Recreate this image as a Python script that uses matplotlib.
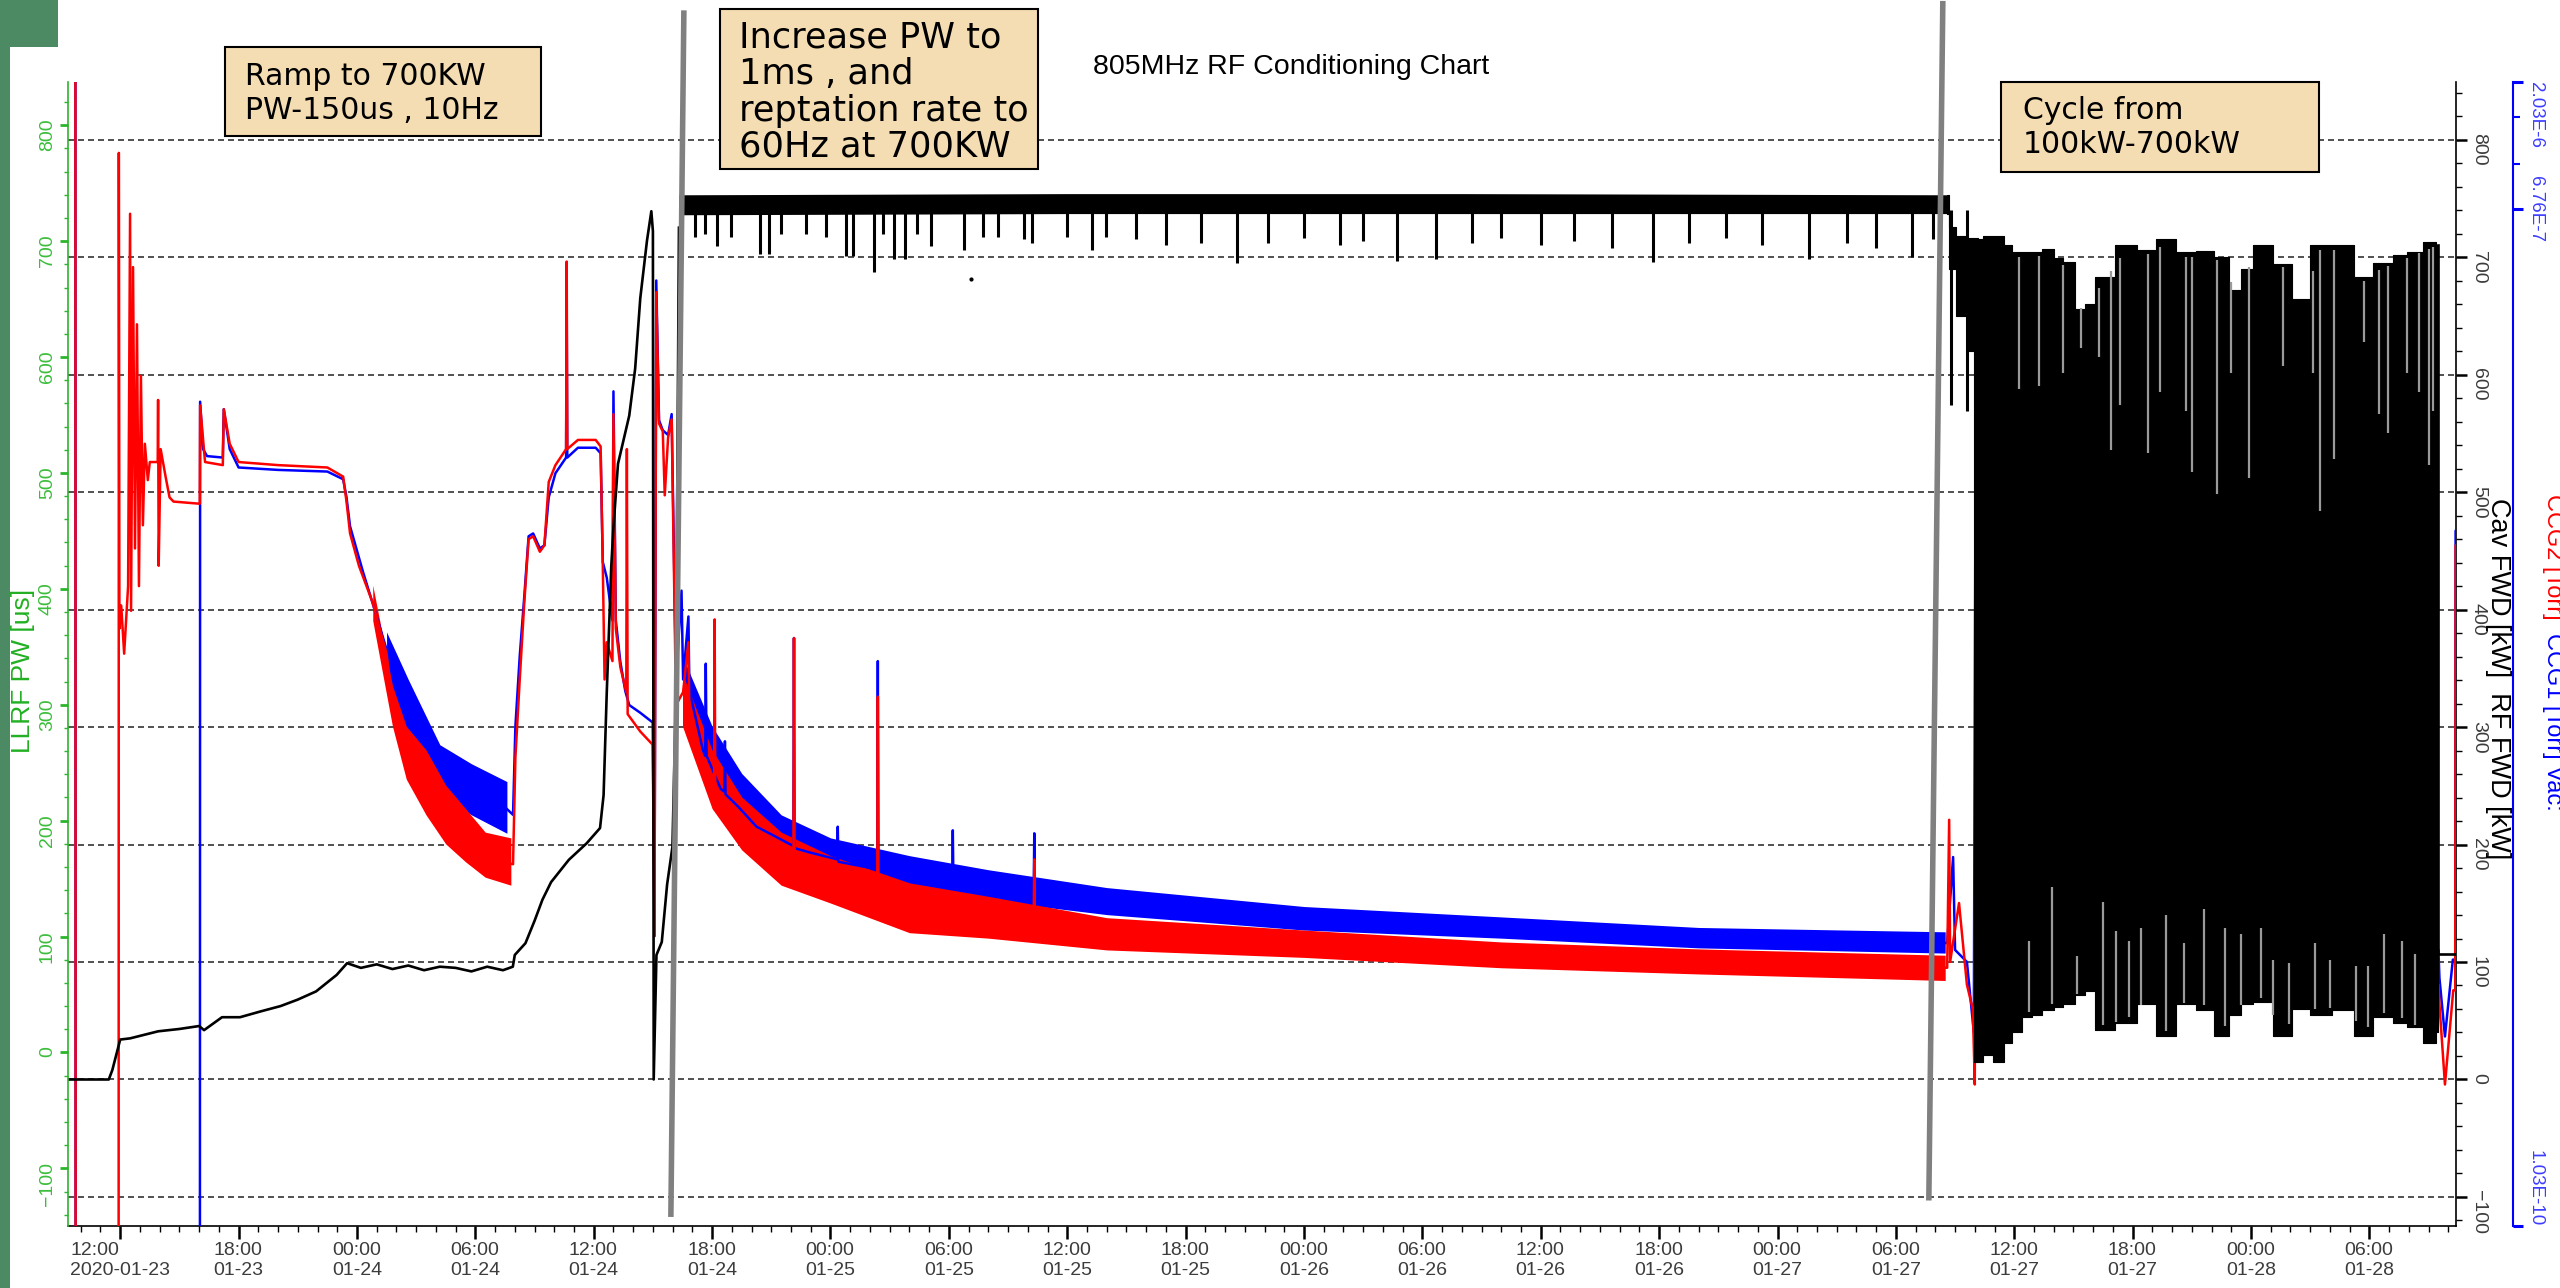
import numpy as np
import matplotlib
matplotlib.use("Agg")
import matplotlib.pyplot as plt
import matplotlib.dates as mdates
from matplotlib.patches import Rectangle
from matplotlib.ticker import (FixedLocator, FixedFormatter, MultipleLocator,
                               NullFormatter, FuncFormatter)

plt.rcParams['font.family'] = ['Liberation Sans', 'DejaVu Sans']

# ---- time base: hours after 2020-01-23 00:00 ----
T0 = np.datetime64("2020-01-23T00:00")
X_START, X_END = 9.354, 130.39

# ---- Cav FWD / RF FWD [kW] (black) ----
fwd_trace = [(9.35, 0), (11.42, 0), (11.6, 8), (12.0, 34), (12.5, 35), (13.92, 41),
             (15.0, 43), (16.0, 45.5), (16.25, 42), (17.16, 53), (18.07, 53), (19.13, 58),
             (20.13, 62.5), (21.0, 68), (21.93, 75), (22.97, 89), (23.5, 99), (24.2, 95),
             (25.0, 98), (25.8, 94), (26.6, 97), (27.4, 93), (28.2, 96), (29.0, 95),
             (29.8, 92), (30.6, 96), (31.4, 93), (31.9, 96), (32.0, 106), (32.54, 116),
             (33.0, 135), (33.4, 153), (33.84, 168), (34.74, 187), (35.64, 201), (36.32, 214),
             (36.5, 242), (36.66, 329), (36.89, 437), (37.0, 470), (37.23, 524), (37.8, 565),
             (38.1, 605), (38.36, 665), (38.7, 714), (38.92, 739), (39.0, 722), (39.04, 0),
             (39.18, 106), (39.45, 117), (39.72, 166), (39.99, 198), (40.17, 329), (40.32, 725)]
# steady 700 kW / 60 Hz band (hour, low, high)
fwd_band = [(40.32, 736, 753), (60.0, 737, 754), (80.0, 737, 754), (104.58, 737, 753)]
# trips / dips below the steady band (hour, kW)
fwd_dips = [(41.13, 717), (41.62, 720), (42.25, 709), (42.98, 717), (44.43, 703), (44.88, 703),
            (45.51, 720), (46.78, 720), (47.78, 717), (48.77, 701), (49.13, 701), (50.22, 687),
            (50.67, 720), (51.22, 698), (51.76, 698), (52.39, 720), (53.12, 709), (54.75, 706),
            (55.74, 717), (56.47, 717), (57.82, 715), (58.19, 712), (60.0, 717), (61.26, 706),
            (61.99, 717), (63.5, 715), (65.0, 710), (66.8, 712), (68.6, 695), (70.2, 712),
            (72.0, 716), (73.8, 710), (75.0, 714), (76.7, 697), (78.7, 698), (80.5, 712),
            (82.0, 716), (84.0, 710), (85.7, 714), (87.6, 708), (89.7, 696), (91.5, 712),
            (93.4, 716), (95.2, 710), (97.6, 698), (99.5, 712), (101.0, 708), (102.8, 700),
            (103.9, 715), (104.78, 574), (105.58, 569)]
fwd_stray = [(55.1, 681)]
# 100-700 kW cycling envelope (hour, top, bottom)
cycle_env = [(104.58, 753, 737), (104.78, 726, 690), (105.28, 718, 650), (105.88, 716, 620),
             (106.0, 716, 15), (106.28, 715, 15), (106.58, 718, 21), (107.29, 718, 15),
             (107.69, 710, 31), (108.09, 704, 40), (108.69, 704, 53), (109.09, 704, 55),
             (109.69, 707, 59), (110.29, 699, 62), (110.69, 696, 64), (111.49, 656, 72),
             (111.69, 660, 75), (112.49, 683, 42), (113.7, 710, 48), (114.7, 706, 64),
             (115.7, 715, 37), (116.7, 704, 64), (117.7, 705, 59), (118.5, 700, 37),
             (119.3, 672, 55), (119.7, 690, 64), (120.5, 710, 66), (121.7, 694, 37),
             (122.5, 664, 60), (123.5, 710, 55), (124.7, 710, 59), (125.7, 683, 37),
             (126.7, 695, 53), (127.7, 702, 48), (128.1, 704, 45), (129.3, 713, 31),
             (129.5, 710, 40)]
# light streaks inside the cycling block: from the top down to ... / from the bottom up to ...
streaks_top = [(108.25, 588), (109.25, 590), (110.49, 601), (111.39, 623), (112.3, 615),
               (112.9, 536), (113.38, 574), (114.8, 533), (115.4, 585), (116.7, 569),
               (117.0, 517), (118.3, 498), (119.0, 601), (119.91, 512), (121.61, 607),
               (123.12, 601), (123.52, 484), (124.22, 528), (125.72, 628), (126.5, 566),
               (126.92, 550), (127.93, 601), (128.53, 585), (129.03, 523), (129.23, 569)]
streaks_bot = [(108.73, 118), (109.93, 164), (111.19, 105), (112.5, 151), (113.14, 126),
               (113.8, 118), (114.4, 129), (115.7, 140), (116.6, 116), (117.6, 145),
               (118.7, 129), (119.5, 124), (120.51, 129), (121.11, 102), (121.91, 99),
               (123.22, 116), (124.02, 102), (125.32, 97), (125.92, 97), (126.72, 124),
               (127.63, 118), (128.33, 107)]
fwd_tail = [(129.5, 710), (129.5, 107), (130.39, 107)]

# ---- vacuum gauges [Torr] ----
ccg2_trace = [(9.35, 5e-6), (9.73, 5e-6), (9.74, 5e-11), (11.92, 5e-11), (11.93, 1.1e-6),
              (11.96, 1.8e-8), (12.05, 2.2e-8), (12.2, 1.45e-8), (12.4, 2.6e-8), (12.5, 6.5e-7),
              (12.55, 2.1e-8), (12.65, 4.1e-7), (12.75, 3.6e-8), (12.85, 2.5e-7), (12.95, 2.6e-8),
              (13.05, 1.6e-7), (13.15, 4.4e-8), (13.25, 8.9e-8), (13.4, 6.5e-8), (13.5, 7.6e-8),
              (13.9, 7.6e-8), (13.92, 1.3e-7), (13.95, 3.1e-8), (14.05, 8.5e-8), (14.3, 6.7e-8),
              (14.5, 5.6e-8), (14.7, 5.4e-8), (16.03, 5.3e-8), (16.05, 1.24e-7), (16.3, 7.6e-8),
              (17.2, 7.4e-8), (17.25, 1.2e-7), (17.55, 8.9e-8), (18.0, 7.6e-8), (20.0, 7.4e-8),
              (22.5, 7.25e-8), (23.3, 6.7e-8), (23.47, 5.4e-8), (23.65, 4.1e-8), (24.1, 3.1e-8),
              (24.8, 2.25e-8), (25.5, 1.45e-8), (25.8, 9.3e-9), (26.15, 7.4e-9), (26.8, 5.3e-9),
              (27.7, 4.3e-9), (28.6, 3.4e-9), (29.5, 2.75e-9), (30.7, 2.45e-9), (31.91, 2.35e-9),
              (32.03, 5.9e-9), (32.25, 1.16e-8), (32.48, 2.25e-8), (32.7, 3.9e-8), (32.93, 4.0e-8),
              (33.27, 3.5e-8), (33.5, 3.7e-8), (33.72, 6.4e-8), (34.06, 7.4e-8), (34.6, 8.5e-8),
              (34.63, 4.3e-7), (34.66, 8.5e-8), (35.2, 9.2e-8), (36.1, 9.2e-8), (36.35, 8.7e-8),
              (36.46, 3.1e-8), (36.55, 1.16e-8), (36.66, 1.6e-8), (36.95, 1.36e-8), (37.0, 1.15e-7),
              (37.12, 1.8e-8), (37.35, 1.29e-8), (37.65, 1.04e-8), (37.68, 8.5e-8), (37.72, 8.6e-9),
              (38.36, 7.4e-9), (38.99, 6.6e-9), (39.08, 1.26e-9), (39.17, 3.3e-7), (39.31, 1.06e-7),
              (39.5, 9.9e-8), (39.6, 5.7e-8), (39.77, 9.4e-8), (39.95, 1.1e-7), (40.17, 9.3e-9),
              (40.53, 1.04e-8), (40.8, 1.6e-8), (40.85, 8.6e-9), (41.17, 7.4e-9), (41.53, 5.6e-9),
              (42.1, 4.65e-9), (42.13, 1.95e-8), (42.16, 4.4e-9), (42.44, 4.0e-9), (43.34, 3.25e-9),
              (44.25, 2.75e-9), (45.15, 2.45e-9), (46.12, 2.3e-9), (46.15, 1.66e-8), (46.18, 2.25e-9),
              (46.96, 2.08e-9), (48.77, 1.86e-9), (50.37, 1.8e-9), (50.4, 1.0e-8), (50.43, 1.78e-9),
              (52.39, 1.67e-9), (56.01, 1.5e-9), (58.3, 1.46e-9), (58.33, 2.45e-9), (58.36, 1.44e-9),
              (61.66, 1.3e-9), (72.0, 1.19e-9), (82.35, 1.09e-9), (92.7, 1.04e-9), (102.2, 9.7e-10),
              (104.6, 9.6e-10), (104.7, 3.45e-9), (104.75, 1.01e-9), (105.2, 1.68e-9), (105.6, 8.3e-10),
              (105.9, 6.7e-10), (106.0, 3.5e-10), (106.05, 1.33e-7), (106.15, 1.68e-9), (106.3, 2.65e-9),
              (106.5, 9.1e-10), (129.5, 8.3e-10), (129.55, 7.0e-10), (129.83, 3.5e-10), (130.25, 7.9e-10),
              (130.35, 7.9e-10), (130.37, 3.7e-8), (130.39, 3.7e-8)]
ccg1_trace = [(9.35, 5e-6), (9.73, 5e-6), (9.74, 5e-11), (16.04, 5e-11), (16.05, 1.28e-7),
              (16.2, 8.5e-8), (16.4, 8.0e-8), (17.2, 7.9e-8), (17.25, 1.2e-7), (17.55, 8.5e-8),
              (18.0, 7.25e-8), (20.0, 7.1e-8), (22.5, 7.0e-8), (23.3, 6.55e-8), (23.47, 5.6e-8),
              (23.65, 4.36e-8), (24.3, 2.95e-8), (25.0, 2.0e-8), (25.6, 1.42e-8), (26.15, 1.16e-8),
              (27.05, 7.4e-9), (28.4, 5.05e-9), (29.8, 4.3e-9), (31.5, 3.85e-9), (31.91, 3.6e-9),
              (32.03, 7.74e-9), (32.25, 1.42e-8), (32.48, 2.37e-8), (32.7, 4.0e-8), (32.93, 4.1e-8),
              (33.27, 3.6e-8), (33.5, 3.7e-8), (33.72, 5.6e-8), (34.06, 6.9e-8), (34.6, 7.9e-8),
              (34.63, 3.0e-7), (34.66, 7.9e-8), (35.2, 8.6e-8), (36.1, 8.6e-8), (36.35, 8.2e-8),
              (36.46, 3.2e-8), (36.66, 2.8e-8), (36.95, 1.93e-8), (37.0, 1.4e-7), (37.12, 1.93e-8),
              (37.35, 1.35e-8), (37.6, 1.05e-8), (37.8, 9.3e-9), (38.36, 8.7e-9), (38.99, 8.0e-9),
              (39.08, 1.37e-9), (39.17, 3.65e-7), (39.31, 1.09e-7), (39.5, 1.0e-7), (39.77, 9.6e-8),
              (39.95, 1.15e-7), (40.17, 1.16e-8), (40.45, 2.5e-8), (40.53, 1.16e-8), (40.8, 2.0e-8),
              (40.85, 1.05e-8), (41.17, 8.3e-9), (41.53, 6.3e-9), (41.65, 6.0e-9), (41.68, 1.33e-8),
              (41.72, 6.0e-9), (42.44, 4.5e-9), (42.62, 4.4e-9), (42.65, 6.8e-9), (42.68, 4.3e-9),
              (43.34, 3.85e-9), (44.25, 3.25e-9), (45.15, 3.0e-9), (46.12, 2.75e-9), (46.15, 1.66e-8),
              (46.18, 2.7e-9), (46.96, 2.6e-9), (48.34, 2.45e-9), (48.37, 3.25e-9), (48.4, 2.4e-9),
              (50.37, 2.25e-9), (50.4, 1.36e-8), (50.43, 2.23e-9), (52.39, 2.16e-9), (54.17, 2.03e-9),
              (54.2, 3.15e-9), (54.23, 2.03e-9), (56.01, 1.92e-9), (58.3, 1.8e-9), (58.33, 3.07e-9),
              (58.36, 1.79e-9), (61.66, 1.68e-9), (72.0, 1.44e-9), (82.35, 1.33e-9), (92.7, 1.24e-9),
              (102.2, 1.17e-9), (104.6, 1.19e-9), (104.9, 2.5e-9), (105.0, 1.12e-9), (105.6, 1.01e-9),
              (105.95, 5.5e-10), (106.05, 1.48e-7), (106.15, 2.8e-9), (106.5, 1.01e-9), (129.5, 1.12e-9),
              (129.55, 8.8e-10), (129.83, 5.3e-10), (130.23, 1.03e-9), (130.35, 1.03e-9),
              (130.37, 4.2e-8), (130.39, 4.2e-8)]
# noise spread of the gauges (hour, low, high)
ccg2_noise = [(24.8, 1.93e-8, 2.62e-8), (25.8, 7.74e-9, 1.1e-8), (26.5, 4.9e-9, 7.74e-9),
              (27.5, 3.6e-9, 6.31e-9), (28.5, 2.8e-9, 4.65e-9), (29.5, 2.4e-9, 3.8e-9),
              (30.5, 2.1e-9, 3.1e-9), (31.8, 1.96e-9, 2.95e-9)]
ccg2_noise_late = [(40.5, 7.74e-9, 1.22e-8), (42.0, 3.8e-9, 6.31e-9), (43.5, 2.66e-9, 4.2e-9),
                   (45.5, 1.96e-9, 3.1e-9), (48.0, 1.68e-9, 2.53e-9), (52.0, 1.3e-9, 2.0e-9),
                   (56.0, 1.24e-9, 1.78e-9), (62.0, 1.12e-9, 1.48e-9), (72.0, 1.05e-9, 1.33e-9),
                   (82.0, 9.6e-10, 1.2e-9), (92.0, 9.1e-10, 1.13e-9), (104.5, 8.6e-10, 1.07e-9)]
ccg1_noise = [(25.5, 1.16e-8, 1.75e-8), (26.6, 6.6e-9, 1.16e-8), (28.2, 4.3e-9, 6.6e-9),
              (29.8, 3.6e-9, 5.6e-9), (31.6, 3.07e-9, 4.8e-9)]
ccg1_noise_late = [(40.5, 9.48e-9, 1.42e-8), (42.0, 4.65e-9, 7.74e-9), (43.5, 3.43e-9, 5.15e-9),
                   (45.5, 2.66e-9, 3.6e-9), (48.0, 2.16e-9, 2.95e-9), (52.0, 1.86e-9, 2.53e-9),
                   (56.0, 1.72e-9, 2.24e-9), (62.0, 1.52e-9, 1.92e-9), (72.0, 1.33e-9, 1.63e-9),
                   (82.0, 1.24e-9, 1.49e-9), (92.0, 1.14e-9, 1.36e-9), (104.5, 1.09e-9, 1.31e-9)]

vac_ticks = [1.03e-10, 6.76e-7, 2.03e-6]
vac_tick_labels = ["1.03E-10", "6.76E-7", "2.03E-6"]

notes = [
    (["Ramp to 700KW", "PW-150us , 10Hz"], (225, 47, 541, 136), 245, 85, 34, 21.5),
    (["Increase PW to", "1ms , and", "reptation rate to", "60Hz at 700KW"],
     (720, 9, 1038, 169), 739, 48, 36.3, 25.3),
    (["Cycle from", "100kW-700kW"], (2001, 82, 2319, 172), 2023, 119, 34, 21.5),
]
# phase dividers drawn over the chart: (hour, kW) at the two ends
dividers = [((40.57, 910), (39.91, -117)), ((104.38, 918), (103.67, -103))]


def hrs(h):
    return T0 + (np.asarray(h, dtype=float) * 3600).astype("timedelta64[s]")


def cols(rows):
    return [np.array(c) for c in zip(*rows)]


W, H = 2560, 1288


def frect(x0, y0, x1, y1):
    return [x0 / W, 1 - y1 / H, (x1 - x0) / W, (y1 - y0) / H]


GREEN = '#2db42d'
fig = plt.figure(figsize=(25.6, 12.88), dpi=100)
ax = fig.add_axes(frect(68, 82, 2456, 1226))
vac = ax.twinx()
llrf = ax.twinx()
fwd = fig.add_axes(ax.get_position(), sharex=ax, sharey=ax, frameon=False)
fwd.axis('off')
ax.set_zorder(0)
vac.set_zorder(1)
fwd.set_zorder(2)
llrf.set_zorder(3)

# vacuum gauges (drawn under the power trace)
for trace, bands, color in [(ccg1_trace, (ccg1_noise, ccg1_noise_late), 'blue'),
                            (ccg2_trace, (ccg2_noise, ccg2_noise_late), 'red')]:
    for band in bands:
        t, lo, hi = cols(band)
        vac.fill_between(hrs(t), lo, hi, color=color, lw=0)
    t, v = cols(trace)
    vac.plot(hrs(t), v, color=color, lw=1.8)
vac.set_yscale('log')
vac.set_ylim(1.03e-10, 2.03e-6)

# power trace
t, v = cols(fwd_trace)
fwd.plot(hrs(t), v, color='black', lw=1.9)
t, lo, hi = cols(fwd_band)
fwd.fill_between(hrs(t), lo, hi, color='black', lw=0)
t, v = cols(fwd_dips)
fwd.vlines(hrs(t), v, 740, color='black', lw=2.2)
t, v = cols(fwd_stray)
fwd.plot(hrs(t), v, 'o', color='black', ms=2)
ct, ctop, cbot = cols(cycle_env)
fwd.fill_between(hrs(ct), cbot, ctop, color='black', lw=0.8, step='mid')
t, v = cols(streaks_top)
fwd.vlines(hrs(t), v, np.interp(t, ct, ctop) - 4, color='#9a9a9a', lw=1.6)
t, v = cols(streaks_bot)
fwd.vlines(hrs(t), np.interp(t, ct, cbot) + 4, v, color='#9a9a9a', lw=1.6)
t, v = cols(fwd_tail)
fwd.plot(hrs(t), v, color='black', lw=1.9)
for (t1, v1), (t2, v2) in dividers:
    fwd.plot(hrs([t1, t2]), [v1, v2], color='#808080', lw=4.0, clip_on=False,
             solid_capstyle='butt', zorder=5)

# ---- axes styling ----
ax.set_xlim(hrs(X_START), hrs(X_END))
ax.set_ylim(-124.7, 849.0)
llrf.set_ylim(-149.7, 837.3)

ax.yaxis.tick_right()
ax.yaxis.set_major_locator(MultipleLocator(100))
ax.yaxis.set_minor_locator(MultipleLocator(20))
ax.grid(axis='y', which='major', color='#333333', ls=(0, (3.6, 2.4)), lw=1.2)
for s in ['top', 'left']:
    ax.spines[s].set_visible(False)
ax.spines['right'].set_linewidth(1.2)
ax.spines['bottom'].set_linewidth(1.2)
ax.tick_params(axis='x', which='major', length=9.5, width=1.8, labelsize=14,
               labelcolor='#3c3c3c', pad=2)
ax.tick_params(axis='x', which='minor', length=4.5, width=1.0)
ax.tick_params(axis='y', which='major', length=8, width=1.8, labelsize=14,
               labelcolor='#3c3c3c', labelrotation=-90, pad=2,
               left=False, labelleft=False, right=True, labelright=True)
ax.tick_params(axis='y', which='minor', length=4.3, width=1.0, left=False, right=True)

ax.xaxis.set_major_locator(mdates.HourLocator(byhour=[0, 6, 12, 18]))
ax.xaxis.set_minor_locator(mdates.HourLocator())


def time_label(x, pos):
    d = mdates.num2date(x)
    return d.strftime("%H:%M\n%Y-%m-%d") if pos == 0 else d.strftime("%H:%M\n%m-%d")


ax.xaxis.set_major_formatter(FuncFormatter(time_label))

llrf.yaxis.set_ticks_position('left')
llrf.yaxis.set_major_locator(MultipleLocator(100))
llrf.yaxis.set_minor_locator(MultipleLocator(20))
for s in ['top', 'right', 'bottom']:
    llrf.spines[s].set_visible(False)
llrf.spines['left'].set_color(GREEN)
llrf.spines['left'].set_linewidth(1.2)
llrf.tick_params(axis='y', which='major', color=GREEN, labelcolor='#3cbd3c', length=5.8,
                 width=2.0, labelsize=14, labelrotation=90, pad=3)
llrf.tick_params(axis='y', which='minor', color=GREEN, length=3, width=1.0)

vac.spines['right'].set_position(('outward', 41))
for s in ['top', 'left', 'bottom']:
    vac.spines[s].set_visible(False)
vac.spines['right'].set_color('blue')
vac.spines['right'].set_linewidth(1.5)
vac.yaxis.set_major_locator(FixedLocator(vac_ticks))
vac.yaxis.set_major_formatter(FixedFormatter(vac_tick_labels))
vac.yaxis.set_minor_locator(FixedLocator([1.0e-6, 1.5e-6]))
vac.yaxis.set_minor_formatter(NullFormatter())
vac.tick_params(axis='y', which='major', color='blue', labelcolor='#3d3dff', length=7.2,
                width=2.2, labelsize=13.5, labelrotation=-90, pad=3)
vac.tick_params(axis='y', which='minor', color='blue', length=5, width=1.5)

# ---- texts ----
fig.text(1291 / W, 1 - 74 / H, "805MHz RF Conditioning Chart", ha='center', va='baseline',
         fontsize=20.5, color='black')
fig.text(23 / W, 1 - 671 / H, "LLRF PW [us]", rotation=90, ha='center', va='center',
         fontsize=19, color='#22b022')
fig.text(2498 / W, 1 - 498 / H, "Cav FWD [kW]  RF FWD [kW]", rotation=-90, rotation_mode='anchor',
         ha='left', va='center', fontsize=19.5, color='black')
fig.text(2553 / W, 1 - 494 / H, "CCG2 [Torr]", rotation=-90, rotation_mode='anchor',
         ha='left', va='center', fontsize=17, color='red')
fig.text(2553 / W, 1 - 633 / H, "CCG1 [Torr] Vac:", rotation=-90, rotation_mode='anchor',
         ha='left', va='center', fontsize=17, color='blue')

for lines, box, tx, base, pitch, size in notes:
    fig.patches.append(Rectangle(frect(*box)[:2], *frect(*box)[2:], transform=fig.transFigure,
                                 facecolor='#f5ddb3', edgecolor='black', lw=1.5, zorder=10))
    for i, line in enumerate(lines):
        fig.text(tx / W, 1 - (base + i * pitch) / H, line, ha='left', va='baseline',
                 fontsize=size, family='DejaVu Sans', color='black', zorder=11)

# green frame pieces on the left edge
fig.patches.append(Rectangle((0, 1 - 47 / H), 58 / W, 47 / H, transform=fig.transFigure,
                             facecolor='#4b8a63', lw=0, zorder=12))
fig.patches.append(Rectangle((0, 0), 10 / W, 1, transform=fig.transFigure,
                             facecolor='#4b8a63', lw=0, zorder=12))

fig.canvas.draw()
for lab in ax.get_xticklabels():
    lab.set_multialignment('left')
# end labels of the vacuum scale stay inside the axis span
for lab, ha in zip(vac.get_yticklabels(), ['right', 'center', 'left']):
    lab.set_rotation_mode('anchor')
    lab.set_horizontalalignment(ha)
    lab.set_verticalalignment('bottom')

fig.savefig("out.png", dpi=100, facecolor='white')
